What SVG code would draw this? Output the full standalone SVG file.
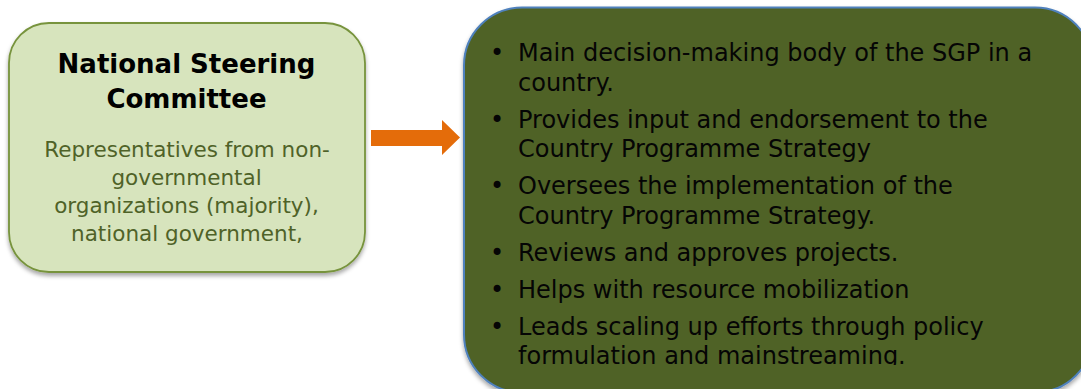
<svg xmlns="http://www.w3.org/2000/svg" width="1081" height="389" viewBox="0 0 1081 389">
  <style>
    .title { font-family: "DejaVu Sans", Verdana, sans-serif; font-weight: bold; font-size: 26px; fill: #000000; text-anchor: middle; }
    .sub { font-family: "DejaVu Sans", Verdana, sans-serif; font-size: 21.5px; fill: #4f6228; text-anchor: middle; }
    .item { font-family: "DejaVu Sans", Verdana, sans-serif; font-size: 24px; fill: #050505; }
    .bullet { font-family: "DejaVu Sans", Verdana, sans-serif; font-size: 24px; fill: #050505; text-anchor: middle; }
  </style>
  <defs>
    <filter id="shadow" x="-10%" y="-10%" width="120%" height="130%">
      <feDropShadow dx="0" dy="3" stdDeviation="2" flood-color="#000000" flood-opacity="0.35"/>
    </filter>
    <clipPath id="textclip">
      <rect x="464" y="8" width="620" height="357"/>
    </clipPath>
  </defs>
  <rect width="1081" height="389" fill="#ffffff"/>

  <g id="nsc">
    <rect x="9" y="23" width="356" height="249" rx="40" ry="40" fill="#d7e4bd" stroke="#77933c" stroke-width="1.8" filter="url(#shadow)"/>
    <text class="title" x="186.5" y="73">National Steering</text>
    <text class="title" x="186.5" y="108">Committee</text>
    <text class="sub" x="187" y="157">Representatives from non-</text>
    <text class="sub" x="186.5" y="185">governmental</text>
    <text class="sub" x="186.5" y="213">organizations (majority),</text>
    <text class="sub" x="187" y="241">national government,</text>
  </g>

  <g id="connectors">
    <polygon points="371,130 442,130 442,120 460,137.5 442,155 442,146 371,146" fill="#e46c0a"/>
  </g>

  <g id="roles">
    <rect x="464" y="7.5" width="629" height="385" rx="58" ry="58" fill="#4f6228" stroke="#4f81bd" stroke-width="2" filter="url(#shadow)"/>
    <g clip-path="url(#textclip)">
      <text class="bullet" x="497" y="61">•</text>
      <text class="item" x="518" y="61">Main decision-making body of the SGP in a</text>
      <text class="item" x="518" y="90.5">country.</text>
      <text class="bullet" x="497" y="128">•</text>
      <text class="item" x="518" y="128">Provides input and endorsement to the</text>
      <text class="item" x="518" y="157">Country Programme Strategy</text>
      <text class="bullet" x="497" y="194">•</text>
      <text class="item" x="518" y="194">Oversees the implementation of the</text>
      <text class="item" x="518" y="223.5">Country Programme Strategy.</text>
      <text class="bullet" x="497" y="261">•</text>
      <text class="item" x="518" y="261">Reviews and approves projects.</text>
      <text class="bullet" x="497" y="298">•</text>
      <text class="item" x="518" y="298">Helps with resource mobilization</text>
      <text class="bullet" x="497" y="335">•</text>
      <text class="item" x="518" y="335">Leads scaling up efforts through policy</text>
      <text class="item" x="518" y="363.5">formulation and mainstreaming.</text>
    </g>
  </g>
</svg>
